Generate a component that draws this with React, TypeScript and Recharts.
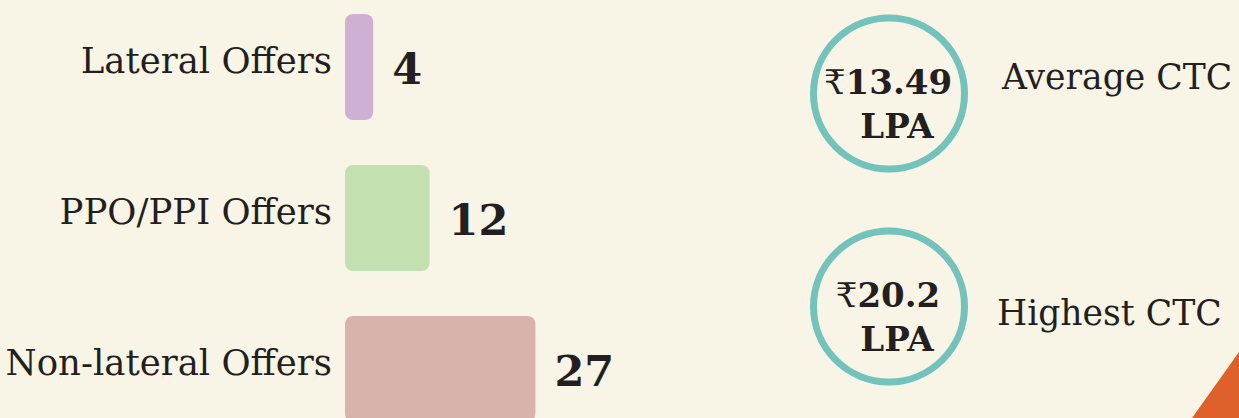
import React from 'react';
import { BarChart, Bar, XAxis, YAxis, Cell, LabelList } from 'recharts';

const categories = ['Lateral Offers', 'PPO/PPI Offers', 'Non-lateral Offers'];
const offerCounts = [4, 12, 27];
const barColors = ['#cfb0d5', '#c2e0b0', '#d8b2ac'];

const ctcValues = [13.49, 20.2];
const ctcUnits = ['LPA', 'LPA'];
const ctcLabels = ['Average CTC', 'Highest CTC'];

const BG = '#f9f5e6';
const INK = '#231f20';
const TEAL = '#72c3bc';

// where each KPI ring sits on the page
const kpiLayout = [
  { cy: 93.5, labelX: 1002, labelY: 89 },
  { cy: 306.5, labelX: 997, labelY: 325 },
];

const data = categories.map((name, i) => ({ name, value: offerCounts[i] }));

const CategoryTick = ({ x, y, payload }: any) => (
  <text
    x={x}
    y={y + 6}
    textAnchor="end"
    fill={INK}
    fontFamily="'DejaVu Serif', serif"
    fontSize={35.5}
  >
    {payload.value}
  </text>
);

const ValueLabel = ({ x, y, width, height, value }: any) => (
  <text
    x={x + width + 19}
    y={y + height / 2 + 17}
    fill={INK}
    fontFamily="'DejaVu Serif', serif"
    fontWeight="bold"
    fontSize={43}
  >
    {value}
  </text>
);

const App: React.FC = () => {
  return (
    <div
      style={{
        position: 'fixed',
        top: 0,
        left: 0,
        width: 1239,
        height: 418,
        background: BG,
        overflow: 'hidden',
      }}
    >
      <div style={{ position: 'absolute', left: 0, top: -9 }}>
        <BarChart
          width={620}
          height={453}
          data={data}
          layout="vertical"
          margin={{ top: 0, right: 0, bottom: 0, left: 0 }}
          barSize={106}
        >
          <XAxis type="number" hide domain={[0, 39]} allowDataOverflow />
          <YAxis
            type="category"
            dataKey="name"
            width={345}
            axisLine={false}
            tickLine={false}
            tick={<CategoryTick />}
            tickMargin={7}
            interval={0}
          />
          <Bar dataKey="value" radius={8} isAnimationActive={false}>
            {data.map((d, i) => (
              <Cell key={d.name} fill={barColors[i]} />
            ))}
            <LabelList dataKey="value" content={<ValueLabel />} />
          </Bar>
        </BarChart>
      </div>

      <svg
        width={1239}
        height={418}
        style={{ position: 'absolute', left: 0, top: 0 }}
      >
        {ctcValues.map((v, i) => {
          const { cy, labelX, labelY } = kpiLayout[i];
          return (
            <g key={ctcLabels[i]}>
              <circle cx={889} cy={cy} r={75.5} fill="none" stroke={TEAL} strokeWidth={7} />
              <text
                x={888}
                y={cy}
                textAnchor="middle"
                fill={INK}
                fontFamily="'DejaVu Serif', serif"
                fontWeight="bold"
                fontSize={34}
              >
                <tspan fontWeight="normal">₹</tspan>
                {v}
              </text>
              <text
                x={897}
                y={cy + 44}
                textAnchor="middle"
                fill={INK}
                fontFamily="'DejaVu Serif', serif"
                fontWeight="bold"
                fontSize={34}
              >
                {ctcUnits[i]}
              </text>
              <text
                x={labelX}
                y={labelY}
                fill={INK}
                fontFamily="'DejaVu Serif', serif"
                fontSize={34.6}
              >
                {ctcLabels[i]}
              </text>
            </g>
          );
        })}
        <polygon points="1192,418 1239,352 1239,418" fill="#e0602c" />
      </svg>
    </div>
  );
};

export default App;
